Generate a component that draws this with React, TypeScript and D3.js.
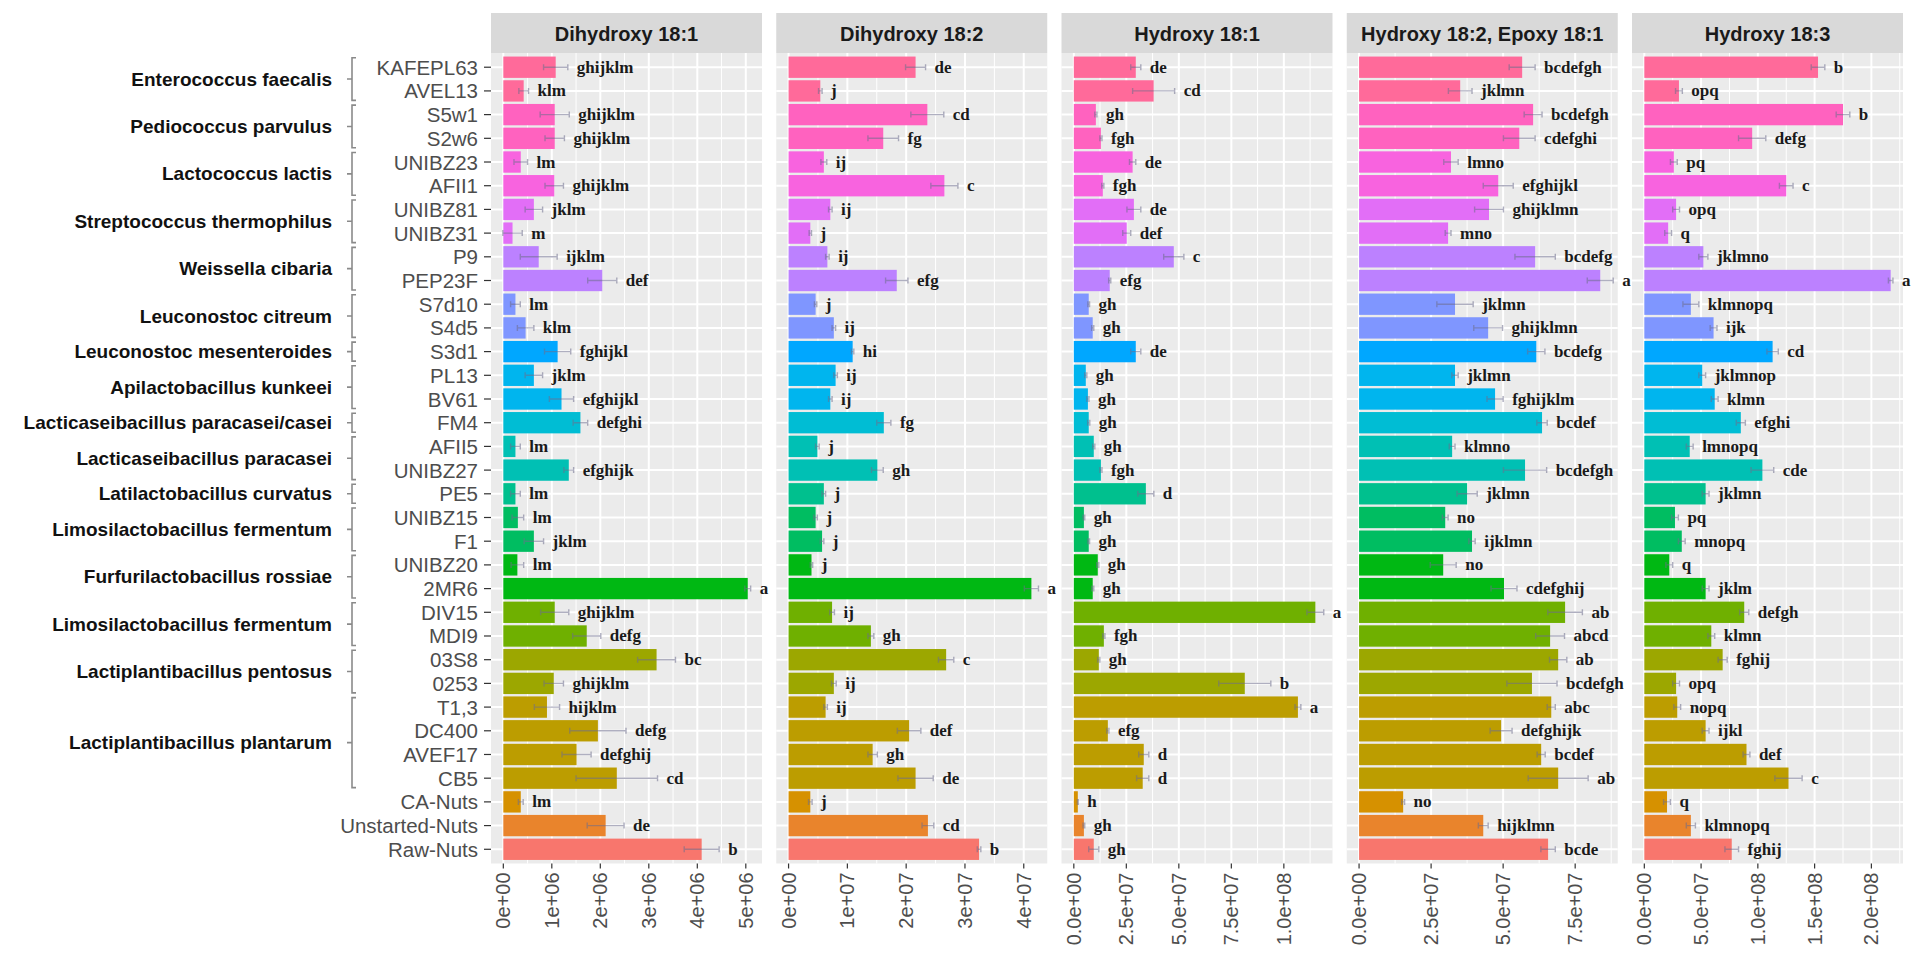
import React from 'react';
import * as d3 from 'd3';

// ---- categories (top to bottom) ----
const strains = [
  'KAFEPL63', 'AVEL13', 'S5w1', 'S2w6', 'UNIBZ23', 'AFII1', 'UNIBZ81', 'UNIBZ31', 'P9', 'PEP23F',
  'S7d10', 'S4d5', 'S3d1', 'PL13', 'BV61', 'FM4', 'AFII5', 'UNIBZ27', 'PE5', 'UNIBZ15', 'F1',
  'UNIBZ20', '2MR6', 'DIV15', 'MDI9', '03S8', '0253', 'T1,3', 'DC400', 'AVEF17', 'CB5',
  'CA-Nuts', 'Unstarted-Nuts', 'Raw-Nuts',
];

const speciesLabels = [
  'Enterococcus faecalis', 'Pediococcus parvulus', 'Lactococcus lactis', 'Streptococcus thermophilus',
  'Weissella cibaria', 'Leuconostoc citreum', 'Leuconostoc mesenteroides', 'Apilactobacillus kunkeei',
  'Lacticaseibacillus paracasei/casei', 'Lacticaseibacillus paracasei', 'Latilactobacillus curvatus',
  'Limosilactobacillus fermentum', 'Furfurilactobacillus rossiae', 'Limosilactobacillus fermentum',
  'Lactiplantibacillus pentosus', 'Lactiplantibacillus plantarum',
];
const speciesSizes = [2, 2, 2, 2, 2, 2, 1, 2, 1, 2, 1, 2, 2, 2, 2, 4];
const controls = ['CA-Nuts', 'Unstarted-Nuts', 'Raw-Nuts'];

const facetTitles = ['Dihydroxy 18:1', 'Dihydroxy 18:2', 'Hydroxy 18:1', 'Hydroxy 18:2, Epoxy 18:1', 'Hydroxy 18:3'];

// ---- series: mean, sd and letter groups per facet ----
const dihydroxy181Mean = [1.08e6, 0.42e6, 1.06e6, 1.06e6, 0.36e6, 1.05e6, 0.63e6, 0.19e6, 0.73e6, 2.04e6, 0.25e6, 0.46e6, 1.12e6, 0.63e6, 1.2e6, 1.59e6, 0.25e6, 1.35e6, 0.25e6, 0.3e6, 0.63e6, 0.29e6, 5.04e6, 1.06e6, 1.72e6, 3.16e6, 1.04e6, 0.9e6, 1.95e6, 1.51e6, 2.34e6, 0.36e6, 2.11e6, 4.09e6];
const dihydroxy181Sd = [0.25e6, 0.1e6, 0.3e6, 0.2e6, 0.14e6, 0.19e6, 0.18e6, 0.2e6, 0.38e6, 0.3e6, 0.1e6, 0.17e6, 0.27e6, 0.18e6, 0.25e6, 0.15e6, 0.1e6, 0.1e6, 0.1e6, 0.12e6, 0.2e6, 0.13e6, 0.06e6, 0.29e6, 0.29e6, 0.39e6, 0.2e6, 0.26e6, 0.58e6, 0.3e6, 0.84e6, 0.05e6, 0.38e6, 0.36e6];
const dihydroxy181Letters = ['ghijklm', 'klm', 'ghijklm', 'ghijklm', 'lm', 'ghijklm', 'jklm', 'm', 'ijklm', 'def', 'lm', 'klm', 'fghijkl', 'jklm', 'efghijkl', 'defghi', 'lm', 'efghijk', 'lm', 'lm', 'jklm', 'lm', 'a', 'ghijklm', 'defg', 'bc', 'ghijklm', 'hijklm', 'defg', 'defghij', 'cd', 'lm', 'de', 'b'];

const dihydroxy182Mean = [2.16e7, 0.54e7, 2.36e7, 1.61e7, 0.6e7, 2.65e7, 0.71e7, 0.37e7, 0.66e7, 1.84e7, 0.46e7, 0.77e7, 1.09e7, 0.8e7, 0.71e7, 1.62e7, 0.49e7, 1.51e7, 0.6e7, 0.46e7, 0.57e7, 0.39e7, 4.13e7, 0.74e7, 1.4e7, 2.68e7, 0.77e7, 0.63e7, 2.05e7, 1.43e7, 2.16e7, 0.37e7, 2.37e7, 3.24e7];
const dihydroxy182Sd = [0.17e7, 0.03e7, 0.28e7, 0.26e7, 0.05e7, 0.23e7, 0.03e7, 0.02e7, 0.03e7, 0.19e7, 0.02e7, 0.03e7, 0.02e7, 0.03e7, 0.03e7, 0.12e7, 0.03e7, 0.1e7, 0.03e7, 0.03e7, 0.03e7, 0.02e7, 0.12e7, 0.04e7, 0.05e7, 0.13e7, 0.04e7, 0.03e7, 0.2e7, 0.08e7, 0.3e7, 0.03e7, 0.1e7, 0.03e7];
const dihydroxy182Letters = ['de', 'j', 'cd', 'fg', 'ij', 'c', 'ij', 'j', 'ij', 'efg', 'j', 'ij', 'hi', 'ij', 'ij', 'fg', 'j', 'gh', 'j', 'j', 'j', 'j', 'a', 'ij', 'gh', 'c', 'ij', 'ij', 'def', 'gh', 'de', 'j', 'cd', 'b'];

const hydroxy181Mean = [2.95e7, 3.8e7, 1.05e7, 1.29e7, 2.8e7, 1.38e7, 2.86e7, 2.52e7, 4.76e7, 1.71e7, 0.71e7, 0.9e7, 2.95e7, 0.57e7, 0.67e7, 0.71e7, 0.95e7, 1.29e7, 3.43e7, 0.48e7, 0.71e7, 1.14e7, 0.9e7, 11.5e7, 1.43e7, 1.19e7, 8.14e7, 10.67e7, 1.62e7, 3.33e7, 3.28e7, 0.19e7, 0.48e7, 0.95e7];
const hydroxy181Sd = [0.24e7, 1.0e7, 0.05e7, 0.05e7, 0.15e7, 0.05e7, 0.33e7, 0.19e7, 0.48e7, 0.05e7, 0.04e7, 0.05e7, 0.24e7, 0.05e7, 0.05e7, 0.05e7, 0.05e7, 0.05e7, 0.38e7, 0.04e7, 0.04e7, 0.05e7, 0.05e7, 0.4e7, 0.05e7, 0.05e7, 1.24e7, 0.14e7, 0.05e7, 0.24e7, 0.29e7, 0.02e7, 0.04e7, 0.24e7];
const hydroxy181Letters = ['de', 'cd', 'gh', 'fgh', 'de', 'fgh', 'de', 'def', 'c', 'efg', 'gh', 'gh', 'de', 'gh', 'gh', 'gh', 'gh', 'fgh', 'd', 'gh', 'gh', 'gh', 'gh', 'a', 'fgh', 'gh', 'b', 'a', 'efg', 'd', 'd', 'h', 'gh', 'gh'];

const hydroxy182Mean = [5.66e7, 3.51e7, 6.04e7, 5.56e7, 3.19e7, 4.83e7, 4.51e7, 3.09e7, 6.11e7, 8.37e7, 3.33e7, 4.48e7, 6.15e7, 3.33e7, 4.72e7, 6.35e7, 3.23e7, 5.76e7, 3.75e7, 2.99e7, 3.92e7, 2.92e7, 5.03e7, 7.15e7, 6.63e7, 6.91e7, 6.0e7, 6.67e7, 4.93e7, 6.32e7, 6.91e7, 1.53e7, 4.31e7, 6.56e7];
const hydroxy182Sd = [0.45e7, 0.41e7, 0.31e7, 0.55e7, 0.25e7, 0.52e7, 0.5e7, 0.1e7, 0.7e7, 0.45e7, 0.63e7, 0.5e7, 0.3e7, 0.11e7, 0.28e7, 0.18e7, 0.1e7, 0.75e7, 0.35e7, 0.1e7, 0.11e7, 0.45e7, 0.45e7, 0.6e7, 0.5e7, 0.3e7, 0.87e7, 0.14e7, 0.38e7, 0.14e7, 1.04e7, 0.05e7, 0.17e7, 0.25e7];
const hydroxy182Letters = ['bcdefgh', 'jklmn', 'bcdefgh', 'cdefghi', 'lmno', 'efghijkl', 'ghijklmn', 'mno', 'bcdefg', 'a', 'jklmn', 'ghijklmn', 'bcdefg', 'jklmn', 'fghijklm', 'bcdef', 'klmno', 'bcdefgh', 'jklmn', 'no', 'ijklmn', 'no', 'cdefghij', 'ab', 'abcd', 'ab', 'bcdefgh', 'abc', 'defghijk', 'bcdef', 'ab', 'no', 'hijklmn', 'bcde'];

const hydroxy183Mean = [1.53e8, 0.305e8, 1.75e8, 0.95e8, 0.26e8, 1.25e8, 0.28e8, 0.21e8, 0.52e8, 2.17e8, 0.41e8, 0.61e8, 1.13e8, 0.51e8, 0.62e8, 0.85e8, 0.4e8, 1.04e8, 0.54e8, 0.27e8, 0.33e8, 0.22e8, 0.54e8, 0.88e8, 0.59e8, 0.69e8, 0.28e8, 0.29e8, 0.54e8, 0.9e8, 1.27e8, 0.2e8, 0.41e8, 0.77e8];
const hydroxy183Sd = [0.06e8, 0.03e8, 0.06e8, 0.12e8, 0.03e8, 0.06e8, 0.03e8, 0.03e8, 0.04e8, 0.02e8, 0.07e8, 0.03e8, 0.05e8, 0.03e8, 0.03e8, 0.04e8, 0.03e8, 0.1e8, 0.03e8, 0.03e8, 0.03e8, 0.03e8, 0.03e8, 0.04e8, 0.03e8, 0.04e8, 0.03e8, 0.03e8, 0.03e8, 0.03e8, 0.12e8, 0.03e8, 0.04e8, 0.06e8];
const hydroxy183Letters = ['b', 'opq', 'b', 'defg', 'pq', 'c', 'opq', 'q', 'jklmno', 'a', 'klmnopq', 'ijk', 'cd', 'jklmnop', 'klmn', 'efghi', 'lmnopq', 'cde', 'jklmn', 'pq', 'mnopq', 'q', 'jklm', 'defgh', 'klmn', 'fghij', 'opq', 'nopq', 'ijkl', 'def', 'c', 'q', 'klmnopq', 'fghij'];

// ---- axis breaks per facet ----
const dihydroxy181Ticks = [0, 1e6, 2e6, 3e6, 4e6, 5e6];
const dihydroxy182Ticks = [0, 1e7, 2e7, 3e7, 4e7];
const hydroxy181Ticks = [0, 2.5e7, 5e7, 7.5e7, 1e8];
const hydroxy182Ticks = [0, 2.5e7, 5e7, 7.5e7];
const hydroxy183Ticks = [0, 5e7, 1e8, 1.5e8, 2e8];

// ---- layout ----
const W = 1911;
const H = 955;
const PANEL_TOP = 53;
const PANEL_BOTTOM = 863.5;
const PANEL_LEFT0 = 491;
const PANEL_PITCH = 285.25;
const PANEL_W = 271;
const STRIP_TOP = 13;
const SANS = "'Liberation Sans', Arial, Helvetica, sans-serif";
const SERIF = "'Liberation Serif', 'Times New Roman', serif";

// R's hcl() (polar CIE-LUV) -> hex, as used by ggplot's default hue palette
function hclLuv(h: number, c: number, l: number): string {
  const Xn = 95.047, Yn = 100, Zn = 108.883;
  const den = Xn + 15 * Yn + 3 * Zn;
  const un = (4 * Xn) / den, vn = (9 * Yn) / den;
  const hr = (h * Math.PI) / 180;
  const U = c * Math.cos(hr), V = c * Math.sin(hr);
  const Y = Yn * (l > 7.999592 ? Math.pow((l + 16) / 116, 3) : l / 903.3);
  const u = U / (13 * l) + un;
  const v = V / (13 * l) + vn;
  const X = (9 * Y * u) / (4 * v);
  const Z = -X / 3 - 5 * Y + (3 * Y) / v;
  const x = X / 100, y = Y / 100, z = Z / 100;
  const gam = (t: number) => (t <= 0.0031308 ? 12.92 * t : 1.055 * Math.pow(t, 1 / 2.4) - 0.055);
  const ch = (t: number) => Math.round(255 * Math.max(0, Math.min(1, gam(t))));
  const r = ch(3.240479 * x - 1.53715 * y - 0.498535 * z);
  const g = ch(-0.969256 * x + 1.875992 * y + 0.041556 * z);
  const b = ch(0.055648 * x - 0.204043 * y + 1.057311 * z);
  return d3.rgb(r, g, b).formatHex();
}

function huePalette(n: number): string[] {
  return d3.range(n).map((i) => hclLuv(15 + (360 * i) / n, 100, 65));
}

function sci(v: number, digits: number): string {
  const s = v.toExponential(digits);
  return s.replace(/e([+-])(\d)$/, 'e$10$2');
}

// fill level of each strain: controls first (bottom), then species groups bottom-up
const nLevels = controls.length + speciesLabels.length;
const palette = huePalette(nLevels);
const strainLevel: number[] = [];
speciesSizes.forEach((size, g) => {
  for (let k = 0; k < size; k++) strainLevel.push(nLevels - 1 - g);
});
controls.forEach((_, k) => strainLevel.push(controls.length - 1 - k));

const facets = [
  { title: facetTitles[0], mean: dihydroxy181Mean, sd: dihydroxy181Sd, letters: dihydroxy181Letters, ticks: dihydroxy181Ticks, digits: 0, max: 5.08e6 },
  { title: facetTitles[1], mean: dihydroxy182Mean, sd: dihydroxy182Sd, letters: dihydroxy182Letters, ticks: dihydroxy182Ticks, digits: 0, max: 4.19e7 },
  { title: facetTitles[2], mean: hydroxy181Mean, sd: hydroxy181Sd, letters: hydroxy181Letters, ticks: hydroxy181Ticks, digits: 1, max: 1.173e8 },
  { title: facetTitles[3], mean: hydroxy182Mean, sd: hydroxy182Sd, letters: hydroxy182Letters, ticks: hydroxy182Ticks, digits: 1, max: 8.55e7 },
  { title: facetTitles[4], mean: hydroxy183Mean, sd: hydroxy183Sd, letters: hydroxy183Letters, ticks: hydroxy183Ticks, digits: 1, max: 2.17e8 },
];

export default function App() {
  const y = d3.scalePoint<string>().domain(strains).range([PANEL_TOP, PANEL_BOTTOM]).padding(0.6);
  const step = y.step();
  const barH = step * 0.9;

  // species brackets
  let start = 0;
  const groups = speciesLabels.map((label, g) => {
    const s = start;
    const e = start + speciesSizes[g] - 1;
    start += speciesSizes[g];
    return { label, s, e };
  });
  const BRACKET_X = 352;

  return (
    <svg width={W} height={H} style={{ position: 'absolute', left: 0, top: 0, background: '#fff' }}>
      <rect x={0} y={0} width={W} height={H} fill="#ffffff" />

      {/* species labels and brackets */}
      {groups.map((gr, i) => {
        const y0 = (y(strains[gr.s]) as number) - step * 0.4;
        const y1 = (y(strains[gr.e]) as number) + step * 0.4;
        const ym = (y0 + y1) / 2;
        return (
          <g key={'grp' + i}>
            <path
              d={`M${BRACKET_X + 4},${y0}H${BRACKET_X}V${y1}H${BRACKET_X + 4}M${BRACKET_X},${ym}H${BRACKET_X - 5}`}
              fill="none"
              stroke="#8a8a8a"
              strokeWidth={1.6}
            />
            <text x={332} y={ym} textAnchor="end" dominantBaseline="central" fontFamily={SANS} fontWeight="bold" fontSize={19} fill="#111">
              {gr.label}
            </text>
          </g>
        );
      })}

      {/* strain axis */}
      {strains.map((s) => (
        <g key={'yl' + s}>
          <text x={478} y={y(s) as number} textAnchor="end" dominantBaseline="central" fontFamily={SANS} fontSize={20.5} fill="#4d4d4d">
            {s}
          </text>
          <line x1={484} x2={PANEL_LEFT0} y1={y(s) as number} y2={y(s) as number} stroke="#333" strokeWidth={1.2} />
        </g>
      ))}

      {facets.map((f, fi) => {
        const left = PANEL_LEFT0 + fi * PANEL_PITCH;
        const x = d3.scaleLinear().domain([-0.05 * f.max, 1.05 * f.max]).range([left, left + PANEL_W]);
        const [d0, d1] = x.domain();
        const tstep = f.ticks[1] - f.ticks[0];
        const minors = [f.ticks[0] - tstep / 2, ...f.ticks.map((t) => t + tstep / 2)].filter((v) => v > d0 && v < d1);
        return (
          <g key={'facet' + fi}>
            {/* strip */}
            <rect x={left} y={STRIP_TOP} width={PANEL_W} height={PANEL_TOP - STRIP_TOP} fill="#d9d9d9" />
            <text x={left + PANEL_W / 2} y={(STRIP_TOP + PANEL_TOP) / 2 + 1} textAnchor="middle" dominantBaseline="central" fontFamily={SANS} fontWeight="bold" fontSize={20} fill="#1a1a1a">
              {f.title}
            </text>
            {/* panel */}
            <rect x={left} y={PANEL_TOP} width={PANEL_W} height={PANEL_BOTTOM - PANEL_TOP} fill="#ebebeb" />
            {minors.map((m, i) => (
              <line key={'mn' + i} x1={x(m)} x2={x(m)} y1={PANEL_TOP} y2={PANEL_BOTTOM} stroke="#fff" strokeWidth={1} />
            ))}
            {f.ticks.map((t, i) => (
              <line key={'mj' + i} x1={x(t)} x2={x(t)} y1={PANEL_TOP} y2={PANEL_BOTTOM} stroke="#fff" strokeWidth={2} />
            ))}
            {strains.map((s) => (
              <line key={'hg' + s} x1={left} x2={left + PANEL_W} y1={y(s) as number} y2={y(s) as number} stroke="#fff" strokeWidth={2} />
            ))}
            {/* bars */}
            {strains.map((s, i) => (
              <rect
                key={'bar' + s}
                x={x(0)}
                y={(y(s) as number) - barH / 2}
                width={Math.max(0, x(f.mean[i]) - x(0))}
                height={barH}
                fill={palette[strainLevel[i]]}
              />
            ))}
            {/* error bars */}
            {strains.map((s, i) => {
              const cy = y(s) as number;
              const lo = x(f.mean[i] - f.sd[i]);
              const hi = x(f.mean[i] + f.sd[i]);
              return (
                <path
                  key={'eb' + s}
                  d={`M${lo},${cy - 3}V${cy + 3}M${lo},${cy}H${hi}M${hi},${cy - 3}V${cy + 3}`}
                  fill="none"
                  stroke="#6e6e8c"
                  strokeOpacity={0.55}
                  strokeWidth={1.4}
                />
              );
            })}
            {/* letters */}
            {strains.map((s, i) => (
              <text
                key={'lt' + s}
                x={x(f.mean[i] + f.sd[i]) + 9}
                y={y(s) as number}
                dominantBaseline="central"
                fontFamily={SERIF}
                fontWeight="bold"
                fontSize={17}
                fill="#1a1a1a"
              >
                {f.letters[i]}
              </text>
            ))}
            {/* x axis */}
            {f.ticks.map((t, i) => (
              <g key={'xt' + i}>
                <line x1={x(t)} x2={x(t)} y1={PANEL_BOTTOM} y2={PANEL_BOTTOM + 5} stroke="#333" strokeWidth={1.2} />
                <text
                  transform={`translate(${x(t)},${PANEL_BOTTOM + 9}) rotate(-90)`}
                  textAnchor="end"
                  dominantBaseline="central"
                  fontFamily={SANS}
                  fontSize={20}
                  fill="#4d4d4d"
                >
                  {sci(t, f.digits)}
                </text>
              </g>
            ))}
          </g>
        );
      })}
    </svg>
  );
}
